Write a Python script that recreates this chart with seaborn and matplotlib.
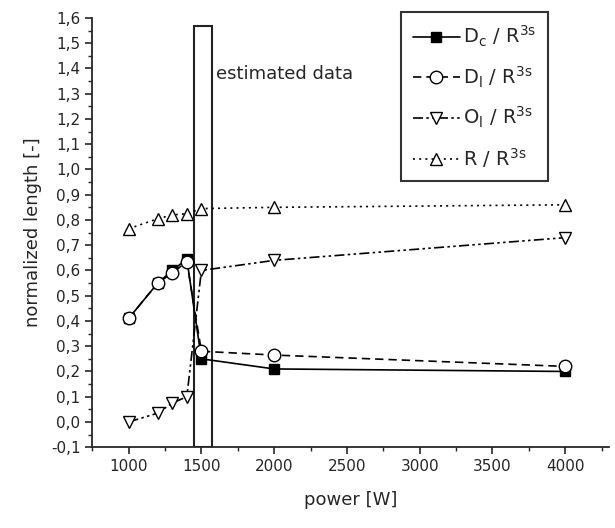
import matplotlib
matplotlib.use('Agg')
import matplotlib.pyplot as plt
import matplotlib.ticker as mticker
from matplotlib.patches import Rectangle
import seaborn as sns
import pandas as pd

# Daten
power = [1000, 1200, 1300, 1400, 1500, 2000, 4000]
d_c = [0.41, 0.55, 0.60, 0.645, 0.25, 0.21, 0.20]
d_l = [0.41, 0.55, 0.59, 0.635, 0.28, 0.265, 0.22]
o_l = [0.0, 0.035, 0.075, 0.10, 0.60, 0.64, 0.73]
r_r = [0.765, 0.805, 0.82, 0.825, 0.845, 0.85, 0.86]

labels = [r'$\mathregular{D_c\ /\ R^{3s}}$', r'$\mathregular{D_l\ /\ R^{3s}}$',
          r'$\mathregular{O_l\ /\ R^{3s}}$', r'$\mathregular{R\ /\ R^{3s}}$']
x_ticks = [1000, 1500, 2000, 2500, 3000, 3500, 4000]
estimated = (1450, 1570)

sns.set_style('ticks')
plt.rcParams['font.family'] = ['DejaVu Sans']

fig = plt.figure(figsize=(6.15, 5.28), dpi=100)
ax = fig.add_axes([0.150, 0.153, 0.840, 0.813])

series = [
    (d_c, labels[0], '-', 's', 'black', 7),
    (d_l, labels[1], (0, (5, 3)), 'o', 'white', 9),
    (o_l, labels[2], (0, (6, 2, 1.5, 2, 1.5, 2)), 'v', 'white', 9),
    (r_r, labels[3], (0, (1.2, 2.5)), '^', 'white', 9),
]
for i, (vals, lab, ls, mk, mfc, ms) in enumerate(series):
    df = pd.DataFrame({'power': power, 'value': vals})
    sns.lineplot(data=df, x='power', y='value', ax=ax, color='black', linestyle=ls,
                 linewidth=1.2, marker=mk, markersize=ms, markerfacecolor=mfc,
                 markeredgecolor='black', markeredgewidth=1.0, label=lab, zorder=3 + i)

ax.add_patch(Rectangle((estimated[0], -0.1), estimated[1] - estimated[0], 1.67,
                       fill=False, edgecolor='#222222', linewidth=1.5, zorder=2))
ax.text(1600, 1.36, 'estimated data', fontsize=13)

ax.set_xlim(750, 4300)
ax.set_ylim(-0.1, 1.6)
ax.set_xticks(x_ticks)
ax.xaxis.set_minor_locator(mticker.MultipleLocator(250))
ax.yaxis.set_major_locator(mticker.MultipleLocator(0.1))
ax.yaxis.set_minor_locator(mticker.MultipleLocator(0.05))
ax.yaxis.set_major_formatter(mticker.FuncFormatter(lambda v, p: f'{v:.1f}'.replace('.', ',')))
ax.tick_params(which='major', direction='out', length=5, width=1.2, labelsize=11)
ax.tick_params(which='minor', direction='out', length=3, width=1.0)
for side in ['top', 'right']:
    ax.spines[side].set_visible(False)
for side in ['left', 'bottom']:
    ax.spines[side].set_linewidth(1.3)
ax.set_xlabel('power [W]', fontsize=13, labelpad=12)
ax.set_ylabel('normalized length [-]', fontsize=13, labelpad=6)

leg = ax.legend(loc='upper right', bbox_to_anchor=(0.883, 1.014), borderaxespad=0,
                fontsize=14, frameon=True, fancybox=False, edgecolor='black',
                handlelength=2.4, handletextpad=0.2, borderpad=0.6, labelspacing=0.8)
leg.get_frame().set_linewidth(1.5)

fig.savefig('out.png', dpi=100)
